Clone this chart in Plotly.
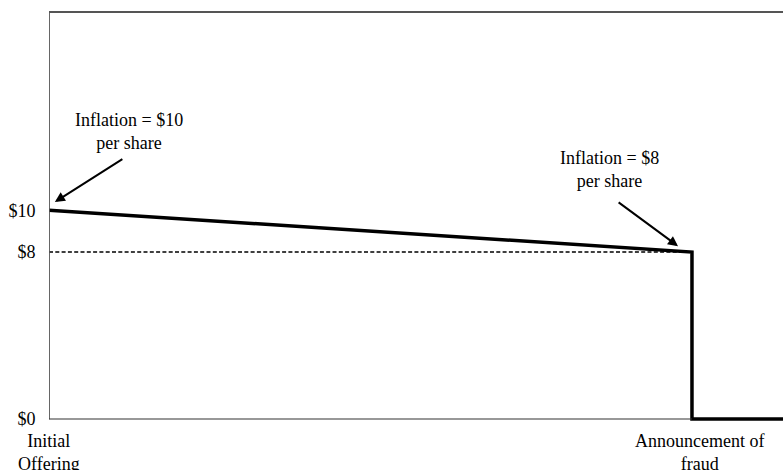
import plotly.graph_objects as go

# Data
time_pts = [0, 87.6, 87.6, 100]
price_inflation = [10, 8, 0, 0]
ref_x = [0, 87.6]
ref_y = [8, 8]
ytick_vals = [0, 8, 10]
ytick_text = ["$0", "$8", "$10"]
xlabel_pos = [0, 87.6]
xlabel_text = ["Initial<br>Offering", "Announcement of<br>fraud"]
xlabel_shift = [0, 8]
notes = ["Inflation = $10<br>per share", "Inflation = $8<br>per share"]

FONT = "Liberation Serif, Times New Roman, serif"
FS = 18

fig = go.Figure()
fig.add_trace(go.Scatter(x=ref_x, y=ref_y, mode="lines",
                         line=dict(color="black", width=1.5, dash="4px,2.3px"),
                         hoverinfo="skip"))
fig.add_trace(go.Scatter(x=time_pts, y=price_inflation, mode="lines",
                         line=dict(color="black", width=3.5),
                         hoverinfo="skip"))

shapes = [
    dict(type="line", xref="x", yref="paper", x0=0, x1=0, y0=0.007, y1=1,
         line=dict(color="#555555", width=1.8)),
    dict(type="line", xref="paper", yref="paper", x0=0, x1=1, y0=1, y1=1,
         line=dict(color="#555555", width=2)),
    dict(type="line", xref="x", yref="y", x0=0, x1=87.6, y0=0, y1=0,
         line=dict(color="#333333", width=1.2)),
]

annotations = []
for xp, t, sh in zip(xlabel_pos, xlabel_text, xlabel_shift):
    annotations.append(dict(x=xp, y=0, xref="x", yref="paper", text=t,
                            showarrow=False, xanchor="center", yanchor="top",
                            yshift=-7, xshift=sh,
                            font=dict(family=FONT, size=FS, color="black")))
annotations.append(dict(x=10.9, y=13.78, xref="x", yref="y", text=notes[0],
                        showarrow=False, font=dict(family=FONT, size=FS, color="black")))
annotations.append(dict(x=76.3, y=11.96, xref="x", yref="y", text=notes[1],
                        showarrow=False, font=dict(family=FONT, size=FS, color="black")))
annotations.append(dict(x=0.8, y=10.4, ax=10.2, ay=12.5, xref="x", yref="y",
                        axref="x", ayref="y", text="", showarrow=True,
                        arrowhead=2, arrowsize=1, arrowwidth=2, arrowcolor="black"))
annotations.append(dict(x=85.7, y=8.28, ax=77.4, ay=10.43, xref="x", yref="y",
                        axref="x", ayref="y", text="", showarrow=True,
                        arrowhead=2, arrowsize=1, arrowwidth=2, arrowcolor="black"))

fig.update_layout(
    width=783, height=470,
    margin=dict(l=49, r=0, t=12, b=48),
    paper_bgcolor="white", plot_bgcolor="white",
    showlegend=False,
    shapes=shapes, annotations=annotations,
    font=dict(family=FONT, size=FS, color="black"),
    xaxis=dict(range=[0, 100], showgrid=False, zeroline=False, showline=False,
               showticklabels=False, ticks="", fixedrange=True),
    yaxis=dict(range=[-0.144, 19.5], showgrid=False, zeroline=False, showline=False,
               tickvals=ytick_vals, ticktext=ytick_text, ticks="outside",
               ticklen=9, tickcolor="rgba(0,0,0,0)",
               tickfont=dict(family=FONT, size=FS, color="black"), fixedrange=True),
)

fig.write_html("out.html", config={"displayModeBar": False},
               post_script="document.body.style.margin='0';document.body.style.overflow='hidden';")
